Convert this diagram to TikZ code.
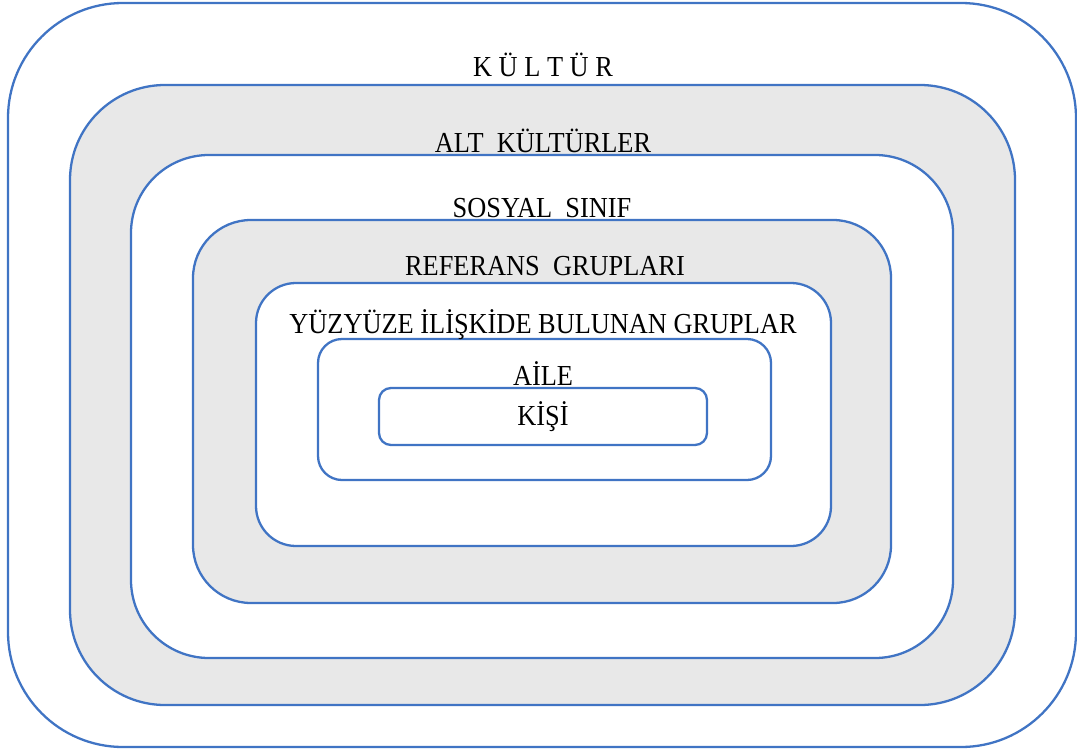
\documentclass[tikz,border=0pt]{standalone}
\usepackage{fontspec}
\setmainfont{Liberation Serif}
\usepackage{graphicx}
\usepackage{xcolor}
\usepackage{tikz}
\usetikzlibrary{positioning}
\definecolor{frameblue}{RGB}{64,116,196}
\definecolor{band}{RGB}{232,232,232}
\newcommand{\tallcaps}[1]{\scalebox{1}[1.1]{#1}}

\begin{document}
\begin{tikzpicture}[x=0.02cm, y=-0.02cm,
  ring/.style={draw=frameblue, line width=1.3pt, fill=white},
  grayring/.style={ring, fill=band},
  lbl/.style={anchor=base, inner sep=0pt, font=\fontsize{15}{18}\selectfont}]
  \useasboundingbox (0,0) rectangle (1077,753);
  % nested layers, outside in
  \draw[ring, rounded corners=2.3cm] (8,3) rectangle (1076,747);
  \draw[grayring, rounded corners=1.9cm] (70,85) rectangle (1015,705);
  \draw[ring, rounded corners=1.56cm] (131,155) rectangle (953,658);
  \draw[grayring, rounded corners=1.16cm] (193,220) rectangle (891,603);
  \draw[ring, rounded corners=0.8cm] (256,283) rectangle (831,546);
  \draw[ring, rounded corners=0.48cm] (318,339) rectangle (771,480);
  \draw[ring, rounded corners=0.24cm] (379,388) rectangle (707,445);
  % labels
  \node[lbl] (kultur) at (543,77) {\tallcaps{K Ü L T Ü R}};
  \node[lbl] (altkultur) at (543,153) {\tallcaps{ALT~~KÜLTÜRLER}};
  \node[lbl] (sinif) at (542,217) {\tallcaps{SOSYAL~~SINIF}};
  \node[lbl] (referans) at (545,275) {\tallcaps{REFERANS~~GRUPLARI}};
  \node[lbl] (yuzyuze) at (543,333) {\tallcaps{YÜZYÜZE İLİŞKİDE BULUNAN GRUPLAR}};
  \node[lbl] (aile) at (543,385) {\tallcaps{AİLE}};
  \node[lbl] (kisi) at (543,425) {\tallcaps{KİŞİ}};
\end{tikzpicture}
\end{document}
